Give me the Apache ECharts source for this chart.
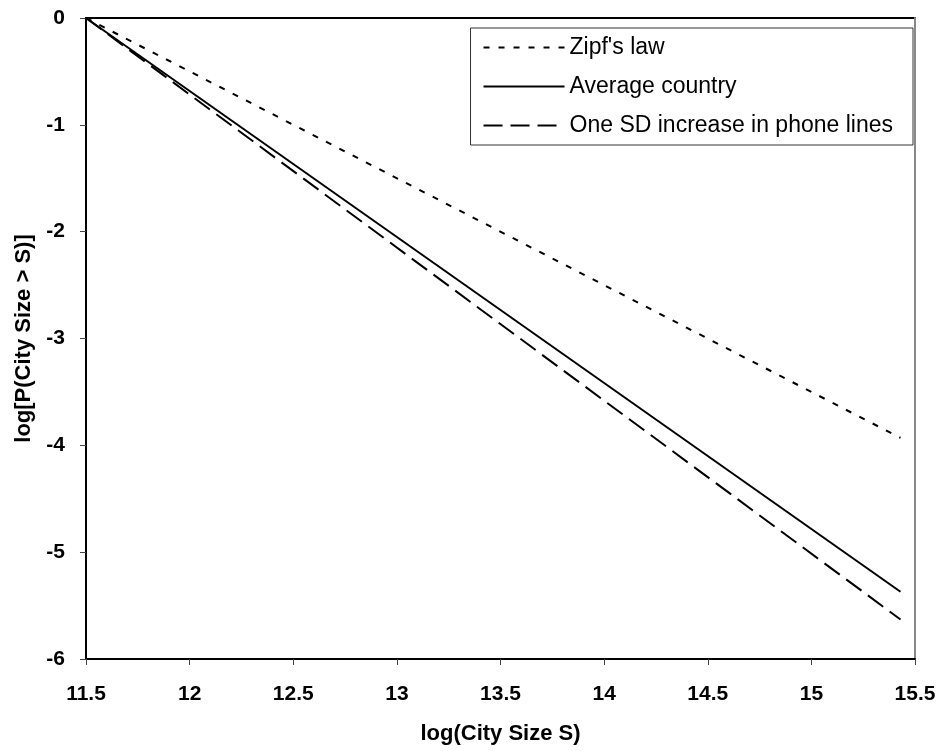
<!DOCTYPE html>
<html>
<head>
<meta charset="utf-8">
<script src="https://cdn.jsdelivr.net/npm/echarts@6/dist/echarts.min.js"></script>
<style>
  html, body { margin: 0; padding: 0; background: #fff; }
  #chart { width: 942px; height: 751px; }
</style>
</head>
<body>
<div id="chart"></div>
<script>
// log city size, start and end of the fitted lines
var x_values = [11.5, 15.43];
var zipf_values = [0, -3.93];
var average_values = [0, -5.37];
var sd_values = [0, -5.63];
var series_names = ["Zipf's law", 'Average country', 'One SD increase in phone lines'];

function pairs(ys) {
    var out = [];
    for (var i = 0; i < x_values.length; i++) {
        out.push([x_values[i], ys[i]]);
    }
    return out;
}

var my_chart = echarts.init(document.getElementById('chart'));

var font = 'Liberation Sans, Arial, sans-serif';

var option = {
    backgroundColor: '#fff',
    animation: false,
    textStyle: { fontFamily: font },
    grid: { left: 86, top: 18, right: 27, bottom: 92, show: true, borderColor: '#000', borderWidth: 2 },
    legend: {
        orient: 'vertical',
        right: 29,
        top: 28,
        padding: [8, 20, 8, 12],
        itemGap: 16,
        itemWidth: 81,
        itemHeight: 22,
        borderColor: '#333',
        borderWidth: 1,
        backgroundColor: '#fff',
        itemStyle: { opacity: 0 },
        textStyle: { fontSize: 23, color: '#000', fontFamily: font },
        data: series_names
    },
    xAxis: {
        type: 'value',
        min: 11.5,
        max: 15.5,
        interval: 0.5,
        name: 'log(City Size S)',
        nameLocation: 'middle',
        nameGap: 64,
        nameTextStyle: { fontSize: 22, fontWeight: 'bold', color: '#000' },
        axisLine: { show: true, onZero: false, lineStyle: { color: '#000', width: 2 } },
        axisTick: { show: true, length: 6, lineStyle: { color: '#444' } },
        axisLabel: { fontSize: 21, fontWeight: 'bold', color: '#000', margin: 25 },
        splitLine: { show: false }
    },
    yAxis: [{
        type: 'value',
        min: -6,
        max: 0,
        interval: 1,
        name: 'log[P(City Size > S)]',
        nameLocation: 'middle',
        nameGap: 50,
        nameTextStyle: { fontSize: 22, fontWeight: 'bold', color: '#000' },
        axisLine: { show: true, onZero: false, lineStyle: { color: '#000', width: 2 } },
        axisTick: { show: true, length: 6, lineStyle: { color: '#444' } },
        axisLabel: { fontSize: 21, fontWeight: 'bold', color: '#000', margin: 21 },
        splitLine: { show: false }
    }, {
        type: 'value',
        position: 'right',
        min: -6,
        max: 0,
        axisLine: { show: true, onZero: false, lineStyle: { color: '#888', width: 2 } },
        axisTick: { show: false },
        axisLabel: { show: false },
        splitLine: { show: false }
    }],
    series: [{
        name: series_names[0],
        type: 'line',
        symbol: 'none',
        data: pairs(zipf_values),
        lineStyle: { color: '#000', width: 2, type: [6, 9] },
        itemStyle: { color: '#000' }
    }, {
        name: series_names[1],
        type: 'line',
        symbol: 'none',
        data: pairs(average_values),
        lineStyle: { color: '#000', width: 2, type: 'solid' },
        itemStyle: { color: '#000' }
    }, {
        name: series_names[2],
        type: 'line',
        symbol: 'none',
        data: pairs(sd_values),
        lineStyle: { color: '#000', width: 2, type: [19, 8] },
        itemStyle: { color: '#000' }
    }]
};

my_chart.setOption(option);
</script>
</body>
</html>
